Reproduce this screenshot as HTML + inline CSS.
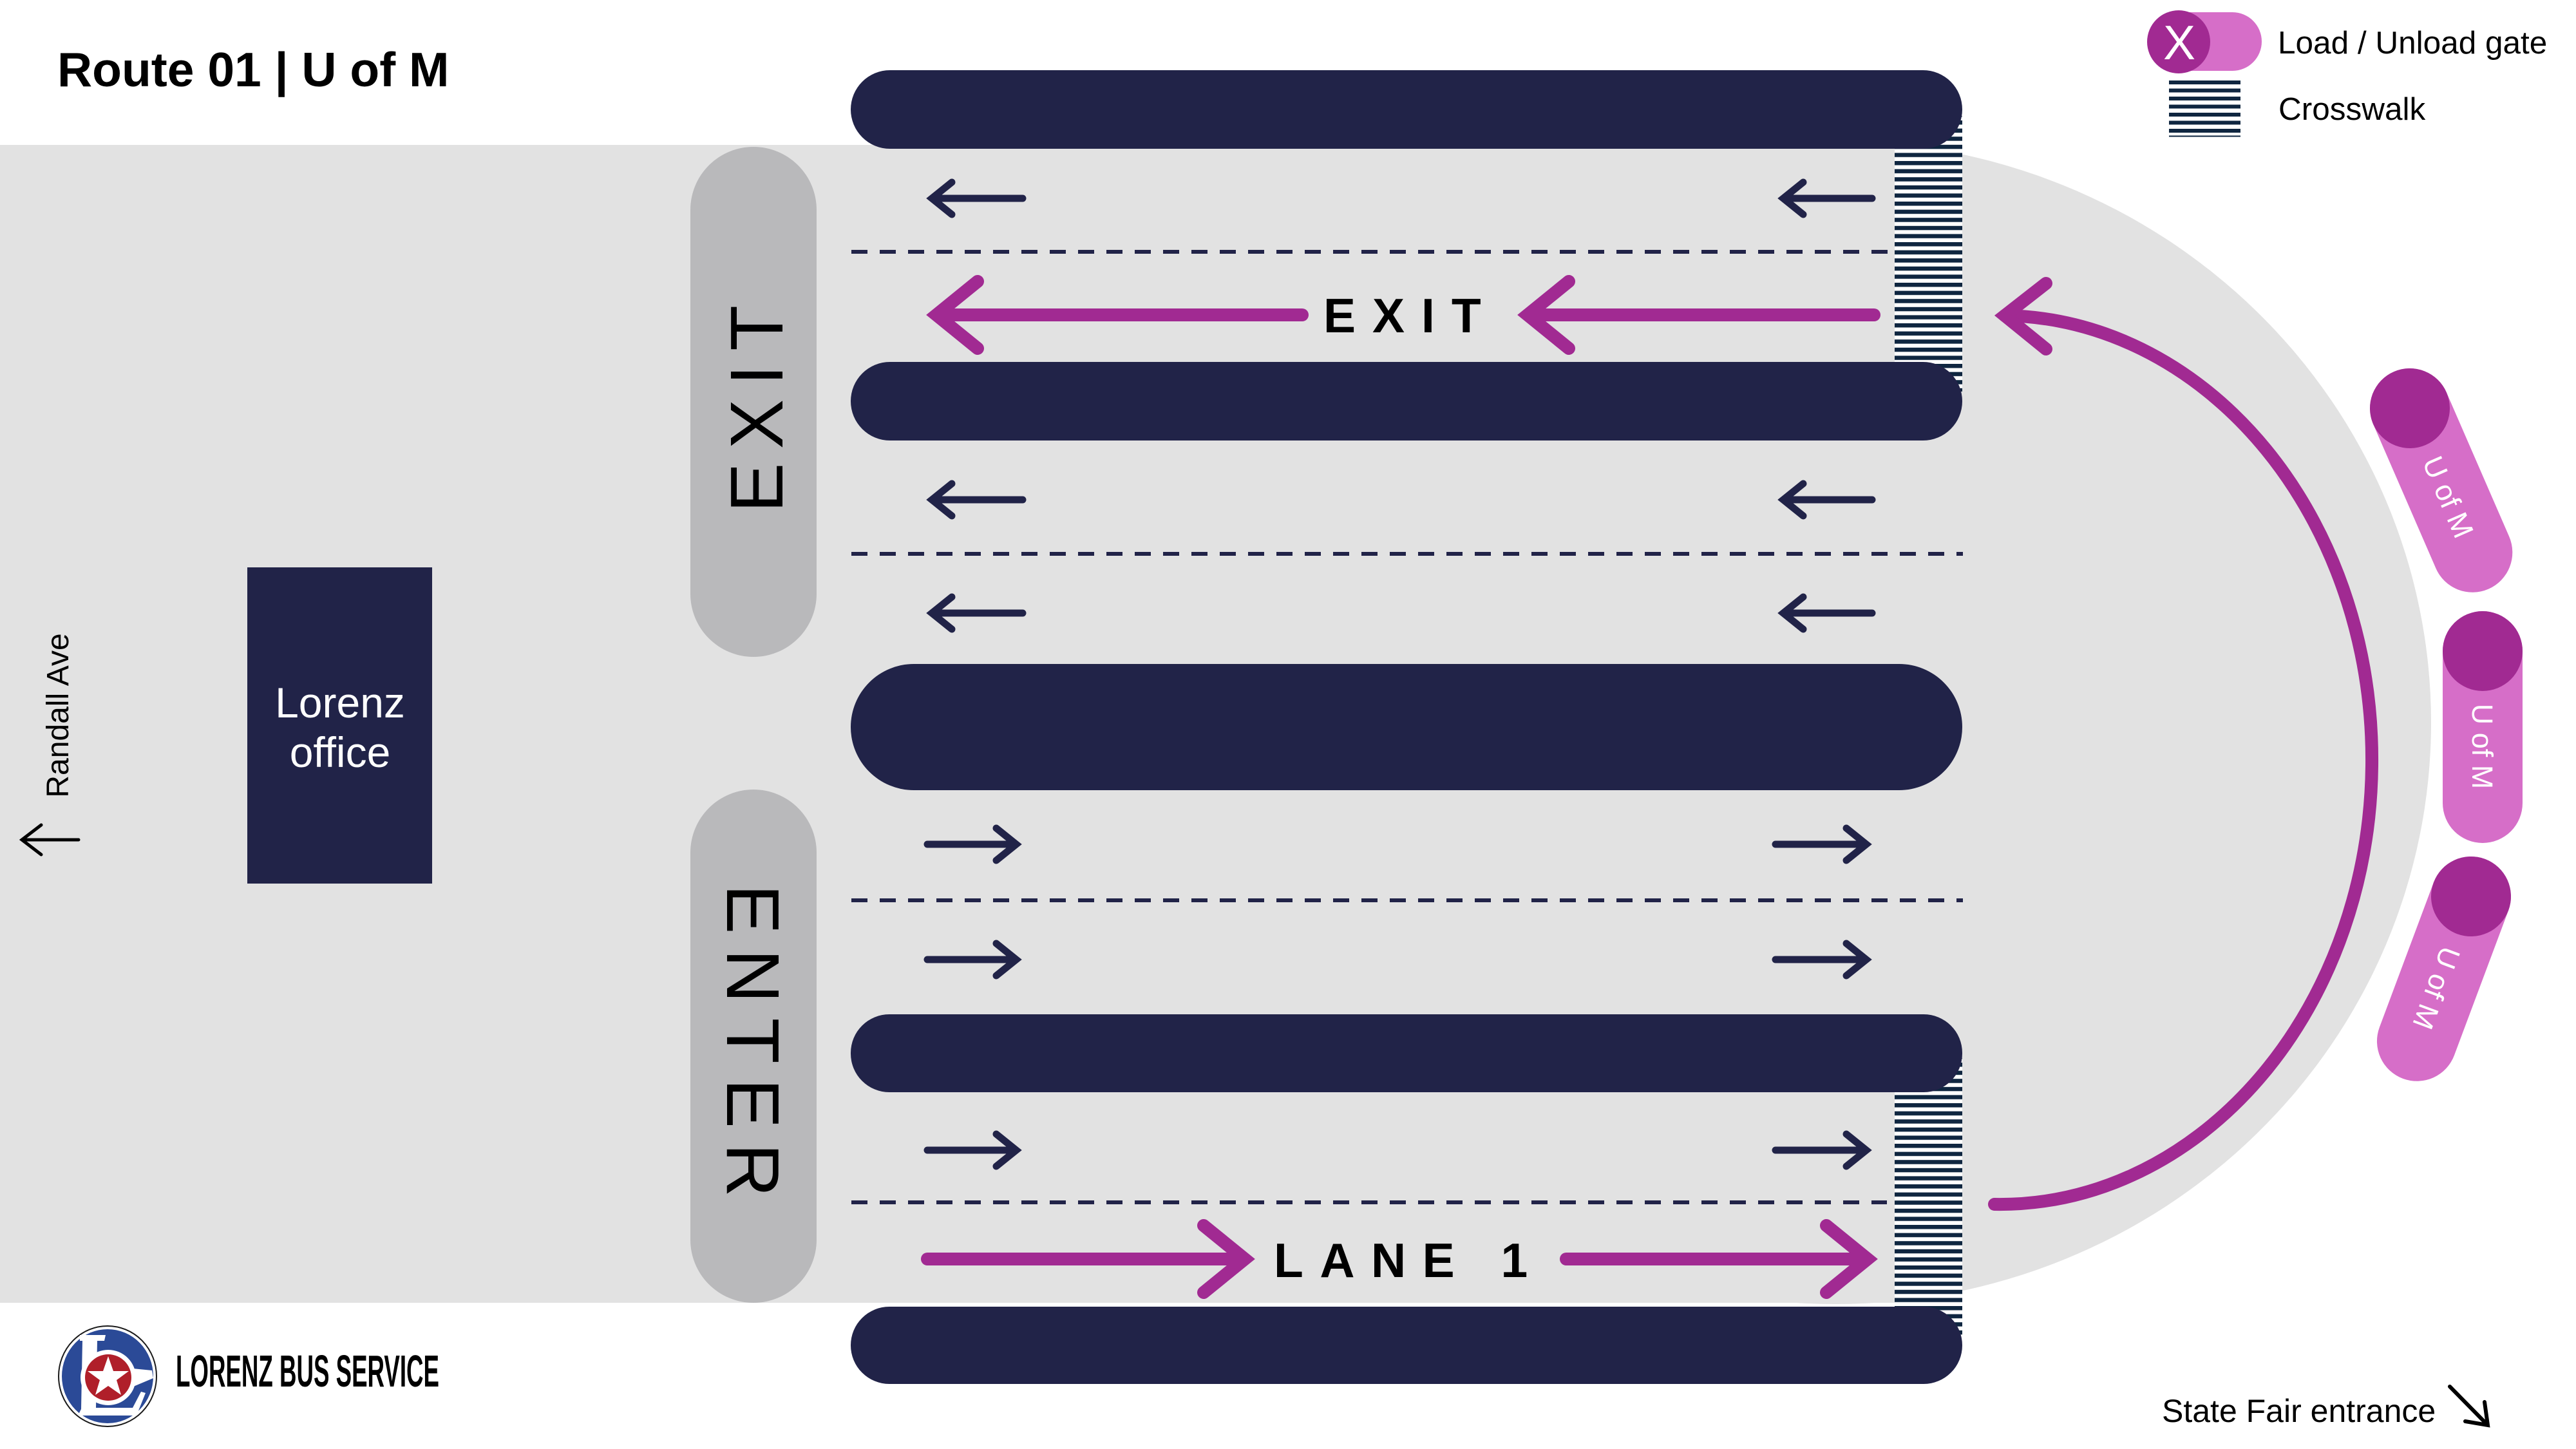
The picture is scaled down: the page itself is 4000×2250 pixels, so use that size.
<!DOCTYPE html>
<html>
<head>
<meta charset="utf-8">
<style>
  html, body { margin: 0; padding: 0; background: #ffffff; }
  svg { display: block; }
  text { font-family: "Liberation Sans", Arial, sans-serif; }
</style>
</head>
<body>
<svg width="4000" height="2250" viewBox="0 0 4000 2250" xmlns="http://www.w3.org/2000/svg">
  <defs>
    <pattern id="cwTop" patternUnits="userSpaceOnUse" x="0" y="237.4" width="400" height="12.6">
      <rect x="0" y="0" width="400" height="6.5" fill="#0F2640"/>
    </pattern>
    <pattern id="cwBot" patternUnits="userSpaceOnUse" x="0" y="1700.4" width="400" height="12.6">
      <rect x="0" y="0" width="400" height="6.5" fill="#0F2640"/>
    </pattern>
  </defs>

  <rect x="0" y="0" width="4000" height="2250" fill="#ffffff"/>

  <!-- gray road area -->
  <ellipse cx="2850" cy="1122" rx="925" ry="903" fill="#E2E2E2"/>
  <rect x="0" y="225" width="2942" height="1798" fill="#E2E2E2"/>

  <!-- crosswalks -->
  <rect x="2942" y="180" width="105" height="428" fill="#ffffff"/>
  <rect x="2942" y="180" width="105" height="428" fill="url(#cwTop)"/>
  <rect x="2942" y="1643" width="105" height="432" fill="#ffffff"/>
  <rect x="2942" y="1643" width="105" height="432" fill="url(#cwBot)"/>

  <!-- platforms -->
  <rect x="1321" y="109" width="1726" height="122" rx="61" ry="61" fill="#212348"/>
  <rect x="1321" y="562" width="1726" height="122" rx="61" ry="61" fill="#212348"/>
  <rect x="1321" y="1031" width="1726" height="196" rx="98" ry="98" fill="#212348"/>
  <rect x="1321" y="1575" width="1726" height="121" rx="60" ry="60" fill="#212348"/>
  <rect x="1321" y="2029" width="1726" height="120" rx="60" ry="60" fill="#212348"/>

  <!-- dashed lane dividers -->
  <g stroke="#212348" stroke-width="6" stroke-dasharray="25 19" fill="none">
    <line x1="1322" y1="391" x2="2932" y2="391"/>
    <line x1="1322" y1="860" x2="3048" y2="860"/>
    <line x1="1322" y1="1398" x2="3048" y2="1398"/>
    <line x1="1322" y1="1867" x2="2930" y2="1867"/>
  </g>

  <!-- small navy arrows -->
  <g stroke="#212348" stroke-width="11" stroke-linecap="round" stroke-linejoin="miter" fill="none">
    <path d="M1588,308 L1447,308 M1478,283 L1447,308 L1478,333"/>
    <path d="M2907,308 L2769,308 M2800,283 L2769,308 L2800,333"/>
    <path d="M1588,776 L1447,776 M1478,751 L1447,776 L1478,801"/>
    <path d="M2907,776 L2769,776 M2800,751 L2769,776 L2800,801"/>
    <path d="M1588,952 L1447,952 M1478,927 L1447,952 L1478,977"/>
    <path d="M2907,952 L2769,952 M2800,927 L2769,952 L2800,977"/>
    <path d="M1440,1311 L1578,1311 M1547,1286 L1578,1311 L1547,1336"/>
    <path d="M2757,1311 L2898,1311 M2867,1286 L2898,1311 L2867,1336"/>
    <path d="M1440,1490 L1578,1490 M1547,1465 L1578,1490 L1547,1515"/>
    <path d="M2757,1490 L2898,1490 M2867,1465 L2898,1490 L2867,1515"/>
    <path d="M1440,1786 L1578,1786 M1547,1761 L1578,1786 L1547,1811"/>
    <path d="M2757,1786 L2898,1786 M2867,1761 L2898,1786 L2867,1811"/>
  </g>

  <!-- magenta route arrows -->
  <g stroke="#A12A92" stroke-width="20" stroke-linecap="round" stroke-linejoin="miter" fill="none">
    <path d="M2022,489 L1454,489 M1518,437 L1454,489 L1518,541"/>
    <path d="M2910,489 L2372,489 M2436,437 L2372,489 L2436,541"/>
    <path d="M1440,1955 L1933,1955 M1869,1903 L1933,1955 L1869,2007"/>
    <path d="M2432,1955 L2900,1955 M2836,1903 L2900,1955 L2836,2007"/>
    <path d="M3113,490 A578,690 0 0 1 3097,1870"/>
    <path d="M3177,440 L3113,490 L3177,542"/>
  </g>

  <!-- lane labels -->
  <text x="2055" y="516" font-size="75" font-weight="bold" letter-spacing="26" fill="#000">EXIT</text>
  <text x="1978" y="1983" font-size="75" font-weight="bold" letter-spacing="25.5" fill="#000" xml:space="preserve">LANE 1</text>

  <!-- EXIT / ENTER pills -->
  <rect x="1072" y="228" width="196" height="792" rx="98" ry="98" fill="#B9B9BB"/>
  <rect x="1072" y="1226" width="196" height="797" rx="98" ry="98" fill="#B9B9BB"/>
  <text transform="translate(1215,635) rotate(-90)" font-size="116" text-anchor="middle" textLength="322" lengthAdjust="spacing" fill="#000">EXIT</text>
  <text transform="translate(1129,1616) rotate(90)" font-size="116" text-anchor="middle" textLength="486" lengthAdjust="spacing" fill="#000">ENTER</text>

  <!-- Lorenz office -->
  <rect x="384" y="881" width="287" height="491" fill="#212348"/>
  <text x="528" y="1114" font-size="66" text-anchor="middle" fill="#ffffff">Lorenz</text>
  <text x="528" y="1191" font-size="66" text-anchor="middle" fill="#ffffff">office</text>

  <!-- Randall Ave -->
  <text transform="translate(106,1111) rotate(-90)" font-size="48" text-anchor="middle" fill="#000">Randall Ave</text>
  <path d="M122,1304 L34,1304 M64,1281 L34,1304 L64,1327" stroke="#000" stroke-width="5" stroke-linecap="round" stroke-linejoin="miter" fill="none"/>

  <!-- gates -->
  <g transform="translate(3742,634) rotate(-23.5)">
    <rect x="-62" y="-62" width="124" height="368" rx="62" ry="62" fill="#D66EC8"/>
    <circle cx="0" cy="0" r="62" fill="#A12A92"/>
    <text transform="translate(-16,150) rotate(90)" font-size="45" text-anchor="middle" fill="#ffffff">U of M</text>
  </g>
  <g transform="translate(3855,1011)">
    <rect x="-62" y="-62" width="124" height="360" rx="62" ry="62" fill="#D66EC8"/>
    <circle cx="0" cy="0" r="62" fill="#A12A92"/>
    <text transform="translate(-16,148) rotate(90)" font-size="45" text-anchor="middle" fill="#ffffff">U of M</text>
  </g>
  <g transform="translate(3837,1392) rotate(20.5)">
    <rect x="-62" y="-62" width="124" height="364" rx="62" ry="62" fill="#D66EC8"/>
    <circle cx="0" cy="0" r="62" fill="#A12A92"/>
    <text transform="translate(-16,152) rotate(90)" font-size="45" text-anchor="middle" fill="#ffffff">U of M</text>
  </g>

  <!-- title -->
  <text x="89" y="134" font-size="75" font-weight="bold" fill="#000">Route 01 | U of M</text>

  <!-- legend -->
  <rect x="3340" y="19" width="172" height="91" rx="45.5" ry="45.5" fill="#D66EC8"/>
  <circle cx="3383" cy="65" r="49" fill="#A12A92"/>
  <text x="3384" y="92" font-size="75" text-anchor="middle" fill="#ffffff">X</text>
  <text x="3537" y="83" font-size="49.5" fill="#000">Load / Unload gate</text>
  <g fill="#0F2640">
    <rect x="3368" y="125" width="111" height="6"/>
    <rect x="3368" y="137.5" width="111" height="6"/>
    <rect x="3368" y="150" width="111" height="6"/>
    <rect x="3368" y="162.5" width="111" height="6"/>
    <rect x="3368" y="175" width="111" height="6"/>
    <rect x="3368" y="187.5" width="111" height="6"/>
    <rect x="3368" y="200" width="111" height="6"/>
    <rect x="3368" y="210.5" width="111" height="2"/>
  </g>
  <text x="3538" y="186" font-size="49.5" fill="#000">Crosswalk</text>

  <!-- State Fair entrance -->
  <text x="3357" y="2208" font-size="50" fill="#000">State Fair entrance</text>
  <path d="M3804,2153 L3863,2213 M3828,2207 L3863,2213 L3858,2177" stroke="#000" stroke-width="6" stroke-linecap="round" stroke-linejoin="miter" fill="none"/>

  <!-- logo -->
  <ellipse cx="167" cy="2137" rx="76" ry="78" fill="#ffffff" stroke="#1a1a1a" stroke-width="2"/>
  <ellipse cx="167" cy="2137" rx="71" ry="73" fill="#2B4A97"/>
  <g fill="#ffffff">
    <polygon points="124,2073 164,2073 162,2082 151,2082 149,2186 206,2186 219,2161 226,2163 212,2198 121,2198 126,2188 128,2082 124,2082"/>
    <circle cx="168" cy="2139" r="43"/>
    <polygon points="196,2124 236,2128 238,2140 200,2156"/>
  </g>
  <circle cx="168" cy="2139" r="36" fill="#B01F2A"/>
  <polygon fill="#ffffff" points="168,2106 176,2129 200,2129 181,2143 188,2166 168,2152 148,2166 155,2143 136,2129 160,2129"/>
  <text x="273" y="2153" font-size="70" font-weight="bold" textLength="409" lengthAdjust="spacingAndGlyphs" fill="#000" style="font-family:'Liberation Sans Narrow','Liberation Sans',Arial,sans-serif;">LORENZ BUS SERVICE</text>
</svg>
</body>
</html>
